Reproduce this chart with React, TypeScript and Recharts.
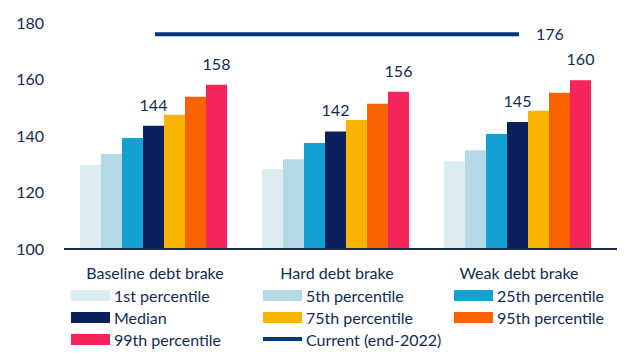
import { ComposedChart, Bar, Line, XAxis, YAxis, LabelList } from 'recharts';

const categories = ['Baseline debt brake', 'Hard debt brake', 'Weak debt brake'];
const p1 = [129.7, 128.3, 131.1];
const p5 = [133.6, 131.8, 135.0];
const p25 = [139.3, 137.5, 140.7];
const median = [143.6, 141.6, 145.0];
const p75 = [147.5, 145.7, 148.9];
const p95 = [153.9, 151.4, 155.3];
const p99 = [158.1, 155.7, 159.7];
const current = [176, 176, 176];
const yTicks = [100, 120, 140, 160, 180];

const TEXT = '#122b54';
const FONT = 'Lato, "Open Sans", sans-serif';

const series = [
  { key: 'p1', name: '1st percentile', color: '#dcedf1', values: p1, label: false },
  { key: 'p5', name: '5th percentile', color: '#b4d8e4', values: p5, label: false },
  { key: 'p25', name: '25th percentile', color: '#13a0d3', values: p25, label: false },
  { key: 'median', name: 'Median', color: '#0b1f5a', values: median, label: true },
  { key: 'p75', name: '75th percentile', color: '#f9b400', values: p75, label: false },
  { key: 'p95', name: '95th percentile', color: '#f86200', values: p95, label: false },
  { key: 'p99', name: '99th percentile', color: '#f5245a', values: p99, label: true },
];
const lineSeries = { key: 'current', name: 'Current (end-2022)', color: '#003781', values: current };

const data = categories.map((name, i) => {
  const row: Record<string, string | number> = { name };
  series.forEach(s => {
    row[s.key] = s.values[i];
  });
  row[lineSeries.key] = lineSeries.values[i];
  return row;
});

const CurrentLabel = (props: any) => {
  const { x, y, value, index } = props;
  if (index !== categories.length - 1) return null;
  return (
    <text x={x + 17} y={y} dy="0.35em" fill={TEXT} fontSize={16} fontFamily={FONT}>
      {Math.round(value)}
    </text>
  );
};

function ChartLegend() {
  const items = [
    ...series.map(s => ({ name: s.name, color: s.color, line: false })),
    { name: lineSeries.name, color: lineSeries.color, line: true },
  ];
  return (
    <div
      style={{
        position: 'absolute',
        left: 63,
        top: 276,
        display: 'grid',
        gridTemplateColumns: '192px 191px 160px',
        gridAutoRows: '22px',
        fontFamily: FONT,
        fontSize: 16,
        color: TEXT,
      }}
    >
      {items.map(item => (
        <div key={item.name} style={{ display: 'flex', alignItems: 'center', whiteSpace: 'nowrap' }}>
          <span
            style={{
              display: 'inline-block',
              width: 39,
              height: item.line ? 4 : 11,
              background: item.color,
              marginRight: 4,
            }}
          />
          {item.name}
        </div>
      ))}
    </div>
  );
}

export default function App() {
  return (
    <div style={{ position: 'relative', width: 617, height: 351, fontFamily: FONT }}>
      <ComposedChart
        width={617}
        height={282}
        data={data}
        margin={{ top: 15, right: 3, left: 0, bottom: 0 }}
        barCategoryGap={16}
        barGap={0}
      >
        <XAxis
          dataKey="name"
          tickLine={false}
          axisLine={{ stroke: '#1a2b4c', strokeWidth: 2 }}
          tick={{ fill: TEXT, fontSize: 16, fontFamily: FONT }}
          tickMargin={13}
          padding={{ left: 0, right: 12 }}
          height={41}
        />
        <YAxis
          domain={[100, 180]}
          ticks={yTicks}
          axisLine={false}
          tickLine={false}
          tickMargin={14}
          width={56}
          tick={{ fill: TEXT, fontSize: 16, fontFamily: FONT }}
        />
        {series.map(s => (
          <Bar key={s.key} dataKey={s.key} name={s.name} fill={s.color} isAnimationActive={false}>
            {s.label && (
              <LabelList
                dataKey={s.key}
                position="top"
                offset={15}
                fill={TEXT}
                fontSize={16}
                fontFamily={FONT}
                formatter={(v: any) => Math.round(Number(v))}
              />
            )}
          </Bar>
        ))}
        <Line
          dataKey={lineSeries.key}
          name={lineSeries.name}
          stroke={lineSeries.color}
          strokeWidth={4}
          dot={false}
          activeDot={false}
          isAnimationActive={false}
        >
          <LabelList dataKey={lineSeries.key} content={CurrentLabel} />
        </Line>
      </ComposedChart>
      <ChartLegend />
    </div>
  );
}
